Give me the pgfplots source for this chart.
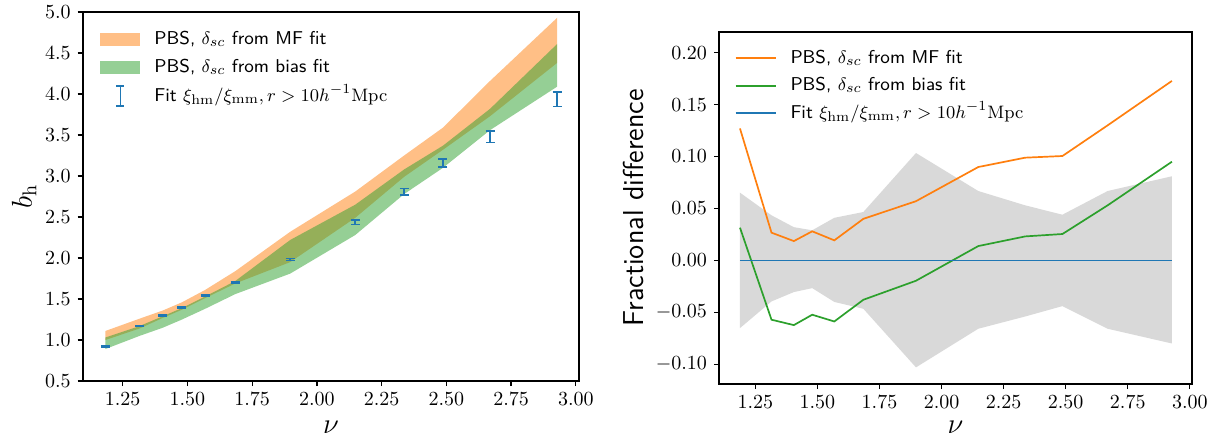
\documentclass[border=0pt]{standalone}
\usepackage{xcolor}
\usepackage{pgfplots}
\usepackage{pgfplotstable}
\pgfplotsset{compat=1.18}
\usepgfplotslibrary{fillbetween}

\definecolor{tabblue}{HTML}{1F77B4}
\definecolor{taborange}{HTML}{FF7F0E}
\definecolor{tabgreen}{HTML}{2CA02C}
\definecolor{bandgray}{RGB}{217,217,217}

% left panel: fit points and the two PBS bands
\pgfplotstableread{
nu    fit   err   mflo mfhi bslo bshi
1.183 0.919 0.005 1.00 1.11 0.89 1.03
1.315 1.169 0.006 1.14 1.26 1.05 1.17
1.405 1.303 0.007 1.27 1.36 1.15 1.29
1.479 1.396 0.008 1.37 1.46 1.25 1.39
1.568 1.543 0.009 1.51 1.61 1.38 1.53
1.685 1.702 0.010 1.69 1.84 1.56 1.72
1.897 1.983 0.012 1.95 2.32 1.81 2.22
2.148 2.436 0.028 2.49 2.81 2.28 2.65
2.337 2.807 0.040 2.99 3.25 2.78 3.08
2.487 3.157 0.050 3.32 3.59 3.10 3.37
2.669 3.480 0.070 3.73 4.16 3.56 3.82
2.928 3.936 0.090 4.38 4.93 4.09 4.61
}\biastab

% right panel: fractional differences
\pgfplotstableread{
nu    mf     bias    lo      hi     zero
1.188 0.127  0.0315 -0.0652 0.0652 0
1.315 0.0267 -0.0571 -0.0395 0.0434 0
1.405 0.0186 -0.0623 -0.0305 0.0320 0
1.479 0.0280 -0.0523 -0.0267 0.0290 0
1.568 0.0193 -0.0588 -0.0400 0.0410 0
1.685 0.0400 -0.0379 -0.0466 0.0466 0
1.897 0.0570 -0.0196 -0.1030 0.1034 0
2.148 0.0899 0.0138 -0.0658 0.0668 0
2.337 0.0989 0.0231 -0.0540 0.0530 0
2.487 0.1005 0.0254 -0.0440 0.0440 0
2.669 0.1300 0.0530 -0.0658 0.0668 0
2.928 0.1728 0.0950 -0.0800 0.0810 0
}\fractab

\pgfplotsset{
  panel/.style={
    scale only axis, anchor=south west,
    axis line style={line width=1pt},
    tick align=outside, xtick pos=bottom, ytick pos=left,
    major tick length=2.5pt,
    every tick/.style={black, line width=0.65pt},
    tick label style={font=\fontsize{10}{12}\selectfont},
    scaled ticks=false,
    xtick={1.25,1.5,1.75,2,2.25,2.5,2.75,3},
    xticklabel style={/pgf/number format/.cd, fixed, fixed zerofill, precision=2},
    xlabel={$\nu$},
    legend cell align=left,
    legend style={draw=none, fill=none, inner sep=0pt, anchor=north west,
      font=\sffamily\fontsize{9.3}{11}\selectfont,
      nodes={inner xsep=7pt, inner ysep=0pt, text height=7.5pt, text depth=2.5pt}},
  },
}

\begin{document}
\begin{tikzpicture}
\begin{axis}[panel,
  at={(41.35pt,32pt)}, width=248.2pt, height=184.5pt,
  xmin=1.0955, xmax=3.0127, ymin=0.5, ymax=5.0,
  ytick={0.5,1,1.5,2,2.5,3,3.5,4,4.5,5},
  yticklabel style={/pgf/number format/.cd, fixed, fixed zerofill, precision=1},
  ylabel={$b_{\rm h}$},
  every axis y label/.style={at={(axis description cs:-0.118,0.5)}, rotate=90, anchor=center, font=\fontsize{14.4}{17}\selectfont},
  every axis x label/.style={at={(axis description cs:0.5,0)}, yshift=-23pt, anchor=center, inner sep=0pt, font=\fontsize{14.4}{17}\selectfont},
  legend style={at={(axis description cs:0,1)}, xshift=8.65pt, yshift=-8.5pt, row sep=4pt},
]
\addplot[name path=mflo, draw=none, forget plot] table[x=nu, y=mflo] \biastab;
\addplot[name path=mfhi, draw=none, forget plot] table[x=nu, y=mfhi] \biastab;
\addplot[taborange, fill opacity=0.5, draw=none, forget plot] fill between[of=mflo and mfhi];
\addplot[name path=bslo, draw=none, forget plot] table[x=nu, y=bslo] \biastab;
\addplot[name path=bshi, draw=none, forget plot] table[x=nu, y=bshi] \biastab;
\addplot[tabgreen, fill opacity=0.5, draw=none, forget plot] fill between[of=bslo and bshi];
\addplot[draw=none, mark=none, forget plot,
  error bars/.cd, y dir=both, y explicit,
  error bar style={draw=tabblue, line width=0.8pt},
  error mark options={draw=tabblue, mark size=2.25pt, line width=0.8pt, rotate=90}]
  table[x=nu, y=fit, y error=err] \biastab;
\addlegendimage{legend image code/.code={\fill[taborange, fill opacity=0.5, draw=none] (0pt,-3.3pt) rectangle (20pt,3.3pt);}}
\addlegendentry{PBS, $\delta_{sc}$ from MF fit}
\addlegendimage{legend image code/.code={\fill[tabgreen, fill opacity=0.5, draw=none] (0pt,-3.3pt) rectangle (20pt,3.3pt);}}
\addlegendentry{PBS, $\delta_{sc}$ from bias fit}
\addlegendimage{legend image code/.code={\draw[tabblue, line width=0.8pt] (10pt,-5pt) -- (10pt,5pt) (8pt,-5pt) -- (12pt,-5pt) (8pt,5pt) -- (12pt,5pt);}}
\addlegendentry{Fit $\xi_{\rm hm}/\xi_{\rm mm}, r > 10h^{-1}{\rm Mpc}$}
\end{axis}

\begin{axis}[panel,
  at={(359.5pt,30.5pt)}, width=236.5pt, height=176pt,
  xmin=1.1035, xmax=3.009, ymin=-0.119, ymax=0.2199,
  ytick={-0.1,-0.05,0,0.05,0.1,0.15,0.2},
  yticklabel style={/pgf/number format/.cd, fixed, fixed zerofill, precision=2},
  ylabel={\sffamily Fractional difference},
  every axis y label/.style={at={(axis description cs:-0.18,0.5)}, rotate=90, anchor=center, font=\fontsize{14.4}{17}\selectfont},
  every axis x label/.style={at={(axis description cs:0.5,0)}, yshift=-21.5pt, anchor=center, inner sep=0pt, font=\fontsize{14.4}{17}\selectfont},
  legend style={at={(axis description cs:0,1)}, xshift=7.65pt, yshift=-8pt, row sep=3.75pt},
  legend image code/.code={\draw[line width=0.9pt] (0pt,0pt) -- (20pt,0pt);},
]
\addplot[name path=glo, draw=none, forget plot] table[x=nu, y=lo] \fractab;
\addplot[name path=ghi, draw=none, forget plot] table[x=nu, y=hi] \fractab;
\addplot[bandgray, draw=none, forget plot] fill between[of=glo and ghi];
\addplot[taborange, line width=0.85pt, mark=none] table[x=nu, y=mf] \fractab;
\addlegendentry{PBS, $\delta_{sc}$ from MF fit}
\addplot[tabgreen, line width=0.85pt, mark=none] table[x=nu, y=bias] \fractab;
\addlegendentry{PBS, $\delta_{sc}$ from bias fit}
\addplot[tabblue, line width=0.9pt, mark=none] table[x=nu, y=zero] \fractab;
\addlegendentry{Fit $\xi_{\rm hm}/\xi_{\rm mm}, r > 10h^{-1}{\rm Mpc}$}
\end{axis}
\pgfresetboundingbox
\path (0,0) rectangle (609.5pt,222.5pt);
\end{tikzpicture}
\end{document}
